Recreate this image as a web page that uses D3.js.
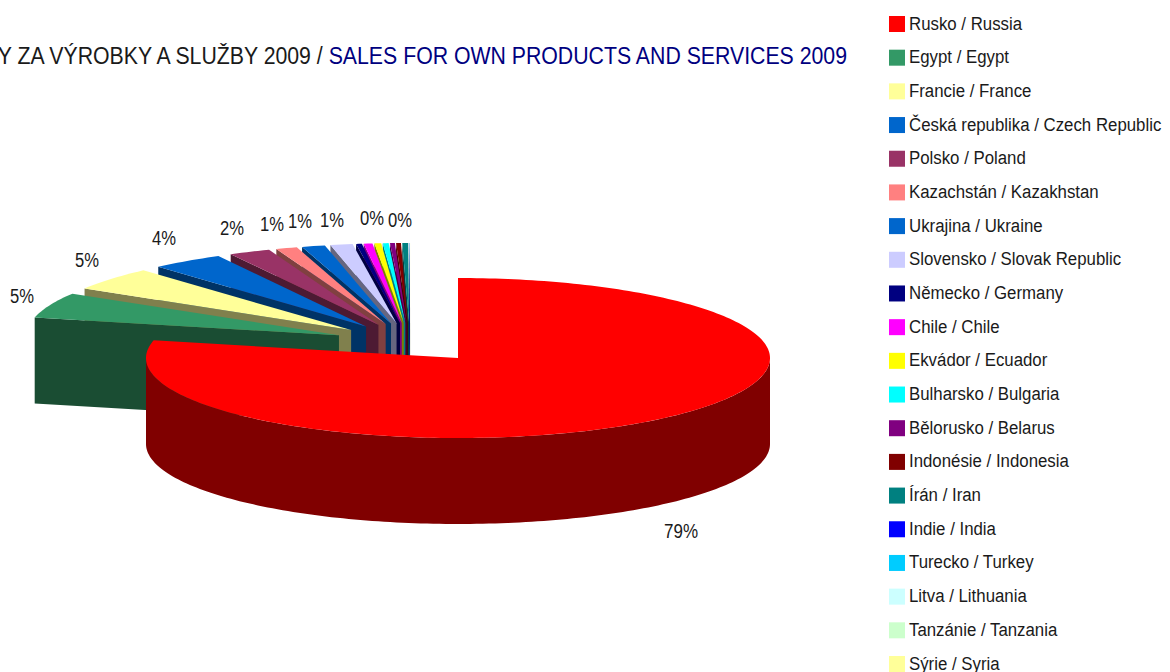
<!DOCTYPE html>
<html><head><meta charset="utf-8">
<script src="https://cdn.jsdelivr.net/npm/d3@7"></script>
<style>html,body{margin:0;padding:0;background:#fff;overflow:hidden}svg{display:block}text{font-family:"Liberation Sans",Arial,sans-serif;fill:#1a1a1a}</style>
</head><body><svg id="c" width="1170" height="672"></svg>
<script>
const categories = ["Rusko / Russia","Egypt / Egypt","Francie / France","Česká republika / Czech Republic","Polsko / Poland","Kazachstán / Kazakhstan","Ukrajina / Ukraine","Slovensko / Slovak Republic","Německo / Germany","Chile / Chile","Ekvádor / Ecuador","Bulharsko / Bulgaria","Bělorusko / Belarus","Indonésie / Indonesia","Írán / Iran","Indie / India","Turecko / Turkey","Litva / Lithuania","Tanzánie / Tanzania","Sýrie / Syria"];
const shares = [78.55,5.15,4.7,3.75,2.15,1.1,1.2,1.15,0.3,0.45,0.35,0.3,0.25,0.25,0.3,0.01,0.01,0.01,0.01,0.01];
const colours = ["#FF0000","#339966","#FFFF99","#0066CC","#993366","#FF8080","#0066CC","#CCCCFF","#000080","#FF00FF","#FFFF00","#00FFFF","#800080","#800000","#008080","#0000FF","#00CCFF","#CCFFFF","#CCFFCC","#FFFF99"];
const titleBlack = "TRŽBY ZA VÝROBKY A SLUŽBY 2009 / ";
const titleBlue = "SALES FOR OWN PRODUCTS AND SERVICES 2009";
// slices whose percentage is printed, with where the text sits
const labelled = [[0,681,531],[1,22,296],[2,87,260],[3,164,238],[4,232,228],[5,272,224],[6,300,221],[7,332,220],[9,372,218],[13,400,220]];

const svg = d3.select("#c");
const rx=312, ry=80, depth=86, explode=0.246;
const redMid = (shares[0]/100*Math.PI*2)/2;
const cx = 458-explode*rx*Math.sin(redMid), cy = 358+explode*ry*Math.cos(redMid);
const sx = d3.scaleLinear().domain([-1,1]).range([cx-rx,cx+rx]);
const sy = d3.scaleLinear().domain([-1,1]).range([cy-ry,cy+ry]);
const arcs = d3.pie().sort(null).value(d=>d)(shares);
const line = d3.line();
const pt=(a,r,mid,dz=0)=>[sx(Math.sin(a)*r+explode*Math.sin(mid)), sy(-Math.cos(a)*r-explode*Math.cos(mid))+dz];
const shade=c=>{const q=d3.rgb(c);return d3.rgb(q.r/2,q.g/2,q.b/2).formatHex();};
function arcPts(a0,a1,mid,dz=0){const n=Math.max(2,Math.ceil((a1-a0)/0.02));return d3.range(n+1).map(i=>pt(a0+(a1-a0)*i/n,1,mid,dz));}
const g=svg.append("g");
// back to front: last slice first, Russia last
arcs.slice().reverse().forEach(d=>{
  const mid=(d.startAngle+d.endAngle)/2, c=colours[d.index], apex=pt(0,0,mid), ap2=pt(0,0,mid,depth);
  if(mid>Math.PI){
    const o=pt(d.startAngle,1,mid);
    g.append("path").attr("d",line([apex,o,[o[0],o[1]+depth],ap2])+"Z").attr("fill",shade(c));
  }
  const f0=Math.max(d.startAngle,Math.PI/2), f1=Math.min(d.endAngle,Math.PI*1.5);
  if(f1>f0){
    const top=arcPts(f0,f1,mid), bot=arcPts(f0,f1,mid,depth).reverse();
    g.append("path").attr("d",line(top.concat(bot))+"Z").attr("fill",shade(c));
  }
  g.append("path").attr("d",line([apex].concat(arcPts(d.startAngle,d.endAngle,mid)))+"Z").attr("fill",c);
});
// percent labels
const fmt=d3.format(".0%");
svg.append("g").selectAll("text").data(labelled).join("text")
  .attr("x",d=>d[1]).attr("y",d=>d[2]+7).attr("text-anchor","middle").attr("font-size",20)
  .attr("textLength",d=>fmt(shares[d[0]]/100).length>2?34:24).attr("lengthAdjust","spacingAndGlyphs")
  .text(d=>fmt(shares[d[0]]/100));
// title (runs off the left edge, as in the source image)
const t=svg.append("text").attr("transform","translate(847,64) scale(0.905,1)").attr("text-anchor","end").attr("font-size",23.5);
t.append("tspan").text(titleBlack);
t.append("tspan").text(titleBlue).style("fill","#000080");
// legend
const ly=d3.scaleLinear().domain([0,categories.length-1]).range([24,664]);
const lg=svg.append("g").selectAll("g").data(categories).join("g").attr("transform",(d,i)=>`translate(889,${ly(i)})`);
lg.append("rect").attr("x",0).attr("y",-8).attr("width",16).attr("height",16).attr("fill",(d,i)=>colours[i]);
lg.append("text").attr("transform","translate(20,5.5) scale(0.885,1)").attr("font-size",19).text(d=>d);
</script></body></html>
